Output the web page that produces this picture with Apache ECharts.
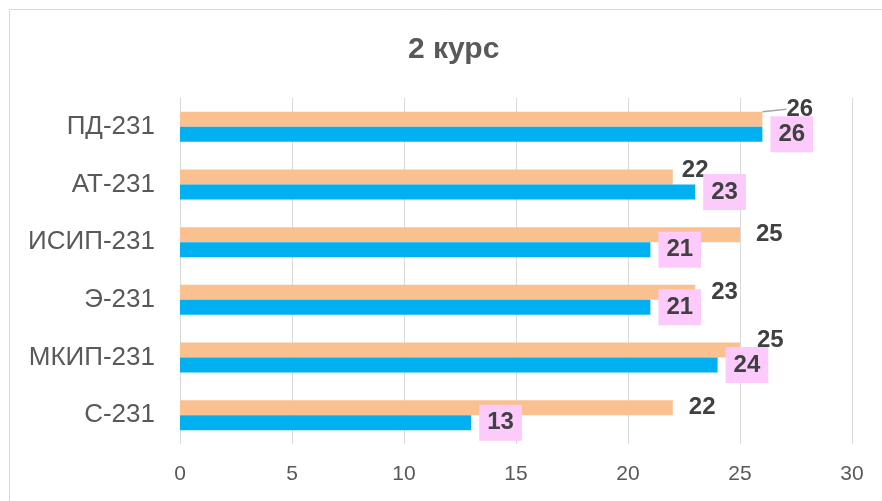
<!DOCTYPE html>
<html>
<head>
    <meta charset="utf-8">
    <title>2 курс</title>
    <script src="https://cdn.jsdelivr.net/npm/echarts@6/dist/echarts.min.js"></script>
    <style>
        html, body { height: 100%; margin: 0; padding: 0; background: #fff; }
    </style>
</head>
<body>
<div id="chart-box" style="width:882px; height:501px;"></div>
<script type="text/javascript">
    // группы сверху вниз
    const groups = ["ПД-231", "АТ-231", "ИСИП-231", "Э-231", "МКИП-231", "С-231"];
    const orangeVals = [26, 22, 25, 23, 25, 22];
    const blueVals = [26, 23, 21, 21, 24, 13];
    const xTicks = [0, 5, 10, 15, 20, 25, 30];

    // сдвиги подписей оранжевой серии (как в исходнике)
    const orangeShift = { 0: [8, -10], 1: [-7, -7], 4: [1, -10] };

    const font = "'Liberation Sans', Arial, sans-serif";
    const chart = echarts.init(document.getElementById("chart-box"));

    const orangeData = orangeVals.map((v, i) => {
        const item = { value: v };
        if (i === 0) item.labelLine = { show: true };
        return item;
    });

    const option = {
        animation: false,
        title: {
            text: "2 курс",
            left: 403,
            top: 30,
            textStyle: { fontFamily: font, fontSize: 30, fontWeight: "bold", color: "#595959" }
        },
        graphic: [{
            type: "rect",
            shape: { x: 9.5, y: 9.5, width: 1000, height: 1000 },
            style: { fill: "none", stroke: "#d9d9d9", lineWidth: 1 },
            silent: true
        }],
        grid: { left: 180, right: 30, top: 98, bottom: 57 },
        xAxis: {
            type: "value",
            min: xTicks[0],
            max: xTicks[xTicks.length - 1],
            interval: 5,
            axisLine: { show: false },
            axisTick: { show: false },
            axisLabel: { fontFamily: font, fontSize: 21, color: "#595959", margin: 20 },
            splitLine: { lineStyle: { color: "#d9d9d9", width: 1 } }
        },
        yAxis: {
            type: "category",
            inverse: true,
            data: groups,
            axisLine: { lineStyle: { color: "#d9d9d9" } },
            axisTick: { show: false },
            axisLabel: { fontFamily: font, fontSize: 26, color: "#595959", margin: 25 }
        },
        series: [
            {
                type: "bar",
                data: orangeData,
                barWidth: 15,
                barGap: 0,
                itemStyle: { color: "#FAC090" },
                label: {
                    show: true,
                    position: "right",
                    distance: 16,
                    fontFamily: font,
                    fontSize: 24,
                    fontWeight: "bold",
                    color: "#404040"
                },
                labelLayout: function (p) {
                    const s = orangeShift[p.dataIndex];
                    return s ? { dx: s[0], dy: s[1] } : {};
                },
                labelLine: { show: false, lineStyle: { color: "#a6a6a6", width: 1.5 } }
            },
            {
                type: "bar",
                data: blueVals,
                barWidth: 15,
                barGap: 0,
                itemStyle: { color: "#00B0F0" },
                label: {
                    show: true,
                    position: "right",
                    distance: 8,
                    fontFamily: font,
                    fontSize: 24,
                    fontWeight: "bold",
                    color: "#404040",
                    backgroundColor: "#FCCBFC",
                    padding: [6, 8]
                }
            }
        ]
    };
    chart.setOption(option);
</script>
</body>
</html>
